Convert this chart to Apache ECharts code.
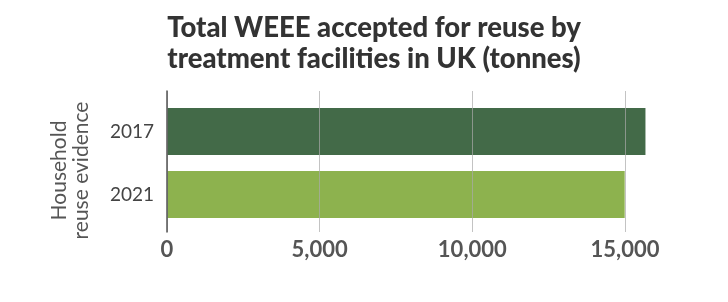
<!DOCTYPE html>
<html>
<head>
<meta charset="utf-8">
<script src="https://cdn.jsdelivr.net/npm/echarts@6/dist/echarts.min.js"></script>
<style>
html,body{margin:0;padding:0;background:#fff;}
#c{width:728px;height:302px;}
</style>
</head>
<body>
<div id="c"></div>
<script>
var titleText = 'Total WEEE accepted for reuse by\ntreatment facilities in UK (tonnes)';
var axisName = 'Household\nreuse evidence';
var categories = ['2017', '2021'];
var values = [15670, 14990];
var barColors = ['#436a48', '#8db24e'];
var xMin = 0, xMax = 15000, xInterval = 5000;

var chart = echarts.init(document.getElementById('c'), null, {renderer: 'canvas'});
chart.setOption({
  backgroundColor: '#ffffff',
  animation: false,
  title: {
    text: titleText,
    left: 369, top: 8, textAlign: 'center',
    textStyle: {fontFamily: 'Lato', fontWeight: 900, fontSize: 27.5, color: '#333333', lineHeight: 31}
  },
  grid: [
    {left: 167, right: 103, top: 91, bottom: 70},
    {left: 167, right: 103, top: 100, bottom: 76}
  ],
  xAxis: [
    {gridIndex: 0, type: 'value', min: xMin, max: xMax, interval: xInterval, z: 5,
     axisLine: {show: false}, axisTick: {show: false},
     splitLine: {show: true, lineStyle: {color: 'rgba(170,170,170,0.7)', width: 1}},
     axisLabel: {margin: 7, fontFamily: 'Lato', fontWeight: 'bold', fontSize: 22, color: '#555555',
       formatter: function (v) { return v.toLocaleString('en-US'); }}},
    {gridIndex: 1, type: 'value', min: xMin, max: xMax, interval: xInterval, show: false}
  ],
  yAxis: [
    {gridIndex: 0, type: 'category', data: categories, inverse: true, z: 6,
     axisLine: {show: true, lineStyle: {color: '#555555', width: 1.5}},
     axisTick: {show: false}, axisLabel: {show: false},
     name: axisName, nameLocation: 'middle', nameGap: 75, nameRotate: 90,
     nameTextStyle: {fontFamily: 'Lato', fontSize: 21, color: '#555555', lineHeight: 22, padding: [0, 18, 0, 0]}},
    {gridIndex: 1, type: 'category', data: categories, inverse: true,
     axisLine: {show: false}, axisTick: {show: false},
     axisLabel: {margin: 13, fontFamily: 'Lato', fontSize: 19, color: '#444444'}}
  ],
  series: [{
    type: 'bar', xAxisIndex: 1, yAxisIndex: 1, barWidth: 47, clip: false,
    data: values.map(function (v, i) { return {value: v, itemStyle: {color: barColors[i]}}; })
  }]
});
</script>
</body>
</html>
